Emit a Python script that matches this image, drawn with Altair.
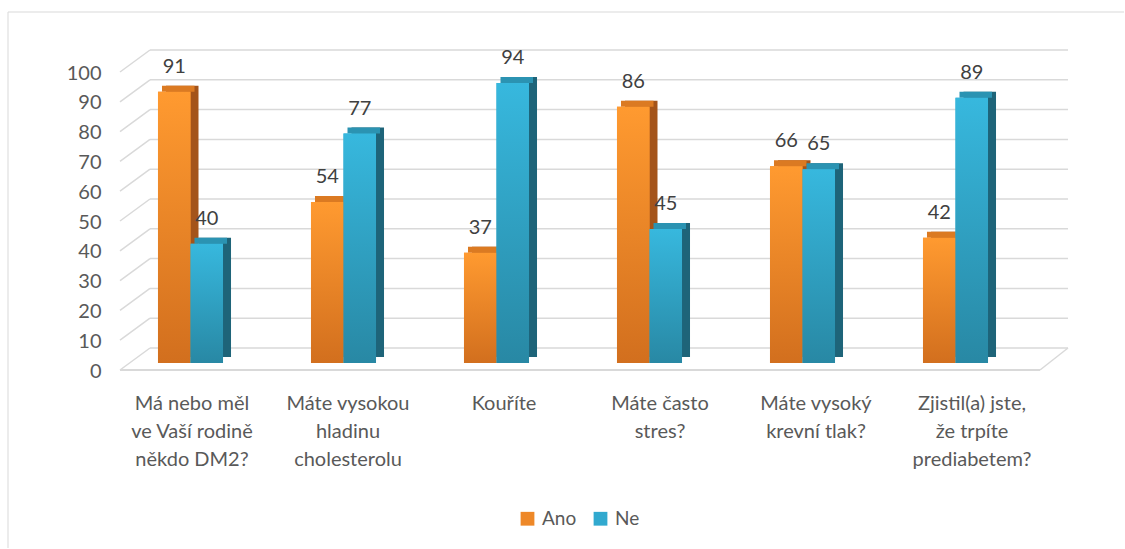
import altair as alt
import pandas as pd

CATEGORIES = [
    "Má nebo měl|ve Vaší rodině|někdo DM2?",
    "Máte vysokou|hladinu|cholesterolu",
    "Kouříte",
    "Máte často|stres?",
    "Máte vysoký|krevní tlak?",
    "Zjistil(a) jste,|že trpíte|prediabetem?",
]
SERIES = ["Ano", "Ne"]
ANO = [91, 54, 37, 86, 66, 42]
NE = [40, 77, 94, 45, 65, 89]
TICKS = list(range(0, 101, 10))

COLORS = ["#EE8828", "#31A9CF"]
TOPS = ["#DB7A22", "#2B93B2"]
SIDES = ["#A4541A", "#1E6479"]
GRAD = [("#FF9A30", "#D26F1E"), ("#37B8DE", "#2888A4")]
BAR = 0.2125  # bar width as a share of the category step

rows = []
for i, (c, a, n) in enumerate(zip(CATEGORIES, ANO, NE)):
    rows.append({"cat": c, "s": "Ano", "v": a, "base": 0, "x0": i - BAR, "x1": i,
                 "side": SIDES[0], "top": TOPS[0]})
    rows.append({"cat": c, "s": "Ne", "v": n, "base": 0, "x0": i, "x1": i + BAR,
                 "side": SIDES[1], "top": TOPS[1]})
df = pd.DataFrame(rows)
df["xm"] = (df["x0"] + df["x1"]) / 2
ticks = pd.DataFrame({"v": TICKS})
cats = pd.DataFrame({"cat": CATEGORIES, "i": list(range(len(CATEGORIES)))})
one = pd.DataFrame({"k": [0]})

FONT = "Lato"
GRID = "#D9D9D9"
TXT = "#595959"
XDOM = [-0.5, len(CATEGORIES) - 0.5]


def X(field):
    return alt.X(f"{field}:Q", axis=None, title=None,
                 scale=alt.Scale(domain=XDOM, nice=False, zero=False))


AXIS = alt.Axis(values=TICKS, domain=False, ticks=False, grid=False,
                labelOverlap=False, labelOffset=8, labelPadding=13,
                labelFontSize=20, labelFont=FONT, labelColor=TXT)


def Y():
    return alt.Y("v:Q", title=None, axis=AXIS,
                 scale=alt.Scale(domain=[0, 100], nice=False, zero=True))


back_grid = alt.Chart(ticks).mark_rule(color=GRID, strokeWidth=1.5, yOffset=-15).encode(
    y=Y(), x=alt.value(36), x2=alt.value(954))
diag = alt.Chart(ticks).mark_rule(color=GRID, strokeWidth=1.5, yOffset=7, y2Offset=-15).encode(
    y=Y(), y2=alt.Y2("v:Q"), x=alt.value(6), x2=alt.value(36))
floor_front = alt.Chart(ticks).transform_filter("datum.v == 0").mark_rule(
    color=GRID, strokeWidth=2, yOffset=7).encode(y=Y(), x=alt.value(6), x2=alt.value(926))
floor_right = alt.Chart(ticks).transform_filter("datum.v == 0").mark_rule(
    color=GRID, strokeWidth=1.5, yOffset=7, y2Offset=-15).encode(
    y=Y(), y2=alt.Y2("v:Q"), x=alt.value(926), x2=alt.value(954))
border_v = alt.Chart(one).mark_rule(color=GRID, strokeWidth=1).encode(
    x=alt.value(-106), y=alt.value(-53), y2=alt.value(483))
border_h = alt.Chart(one).mark_rule(color=GRID, strokeWidth=1).encode(
    x=alt.value(-106), x2=alt.value(1010), y=alt.value(-53))

side = alt.Chart(df).mark_bar(xOffset=8, x2Offset=8, yOffset=-6, y2Offset=-6).encode(
    x=X("x0"), x2="x1:Q", y=Y(), y2="base:Q", color=alt.Color("side:N", scale=None))
top = alt.Chart(df).mark_bar(xOffset=4, x2Offset=4, yOffset=-6, y2Offset=0).encode(
    x=X("x0"), x2="x1:Q", y=Y(), y2=alt.Y2("v:Q"), color=alt.Color("top:N", scale=None))
front = alt.Chart(df).mark_bar().encode(
    x=X("x0"), x2="x1:Q", y=Y(), y2="base:Q",
    color=alt.Color("s:N", scale=alt.Scale(domain=SERIES, range=COLORS),
                    legend=alt.Legend(title=None, orient="none", legendX=404, legendY=444,
                                      direction="horizontal", symbolType="square",
                                      symbolSize=190, symbolStrokeWidth=0,
                                      labelFontSize=19, labelFont=FONT, labelColor=TXT,
                                      columnPadding=14, labelOffset=5)))
overlays = []
for s, (c1, c2) in zip(SERIES, GRAD):
    overlays.append(
        alt.Chart(df).transform_filter(alt.datum.s == s).mark_bar(
            color=alt.Gradient(gradient="linear",
                               stops=[alt.GradientStop(color=c1, offset=0),
                                      alt.GradientStop(color=c2, offset=1)],
                               x1=0, x2=0, y1=0, y2=1)
        ).encode(x=X("x0"), x2="x1:Q", y=Y(), y2="base:Q")
    )

values = alt.Chart(df).mark_text(dy=-19, baseline="alphabetic", fontSize=20, font=FONT,
                                 color="#404040").encode(
    x=X("xm"), y=Y(), text="v:Q")

cat_labels = alt.Chart(cats).mark_text(lineBreak="|", baseline="top", align="center",
                                       fontSize=20, lineHeight=28, font=FONT,
                                       color=TXT).encode(
    x=alt.X("i:Q", axis=None, title=None,
            scale=alt.Scale(domain=XDOM, range=[0, 936], nice=False, zero=False)),
    y=alt.value(329), text="cat:N")

chart = alt.layer(
    back_grid, diag, floor_front, floor_right, border_v, border_h,
    side, top, front, *overlays, values, cat_labels
).resolve_scale(x="independent").properties(
    width=918, height=298,
    padding={"left": 7, "top": 11, "right": 0, "bottom": 0},
).configure_view(stroke=None)

chart.save("out.html", embed_options={"renderer": "svg", "actions": False})
